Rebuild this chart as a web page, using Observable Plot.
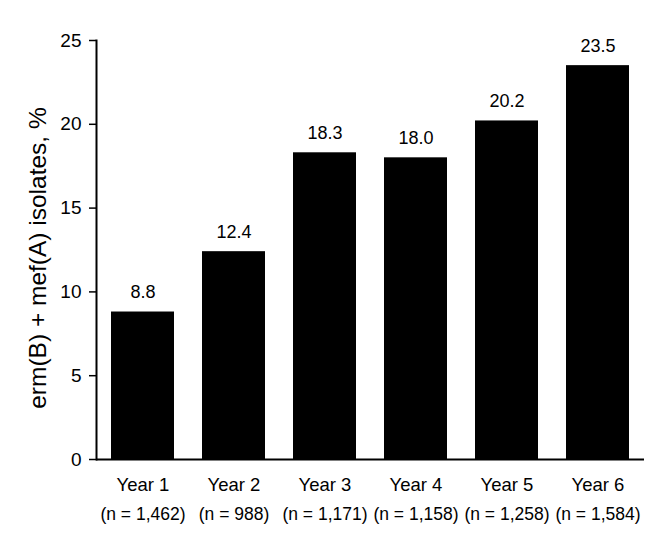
<!DOCTYPE html>
<html>
<head>
<meta charset="utf-8">
<script src="https://cdn.jsdelivr.net/npm/d3@7"></script>
<script src="https://cdn.jsdelivr.net/npm/@observablehq/plot@0.6"></script>
<style>
  body { margin: 0; background: #fff; }
  svg { font-family: "Liberation Sans", Arial, sans-serif; }
</style>
</head>
<body>
<div id="chart"></div>
<script>
const categories = ["Year 1", "Year 2", "Year 3", "Year 4", "Year 5", "Year 6"];
const values = [8.8, 12.4, 18.3, 18.0, 20.2, 23.5];
const sampleSizes = ["(n = 1,462)", "(n = 988)", "(n = 1,171)", "(n = 1,158)", "(n = 1,258)", "(n = 1,584)"];
const yTicks = [0, 5, 10, 15, 20, 25];
const yLabel = "erm(B) + mef(A) isolates, %";

const data = categories.map((c, i) => ({year: c, value: values[i], n: sampleSizes[i]}));

const chart = Plot.plot({
  width: 672,
  height: 540,
  marginLeft: 96,
  marginRight: 28,
  marginTop: 40,
  marginBottom: 81,
  style: {fontFamily: "Liberation Sans, Arial, sans-serif", color: "#000", background: "#fff"},
  x: {domain: categories, paddingInner: 0.31, paddingOuter: 0.155, axis: null},
  y: {domain: [0, 25], axis: null},
  marks: [
    Plot.barY(data, {x: "year", y: "value", fill: "#000"}),
    Plot.text(data, {x: "year", y: "value", text: d => d3.format(".1f")(d.value), lineAnchor: "bottom", dy: -14, fontSize: 18, fill: "#000"}),
    Plot.axisY({ticks: yTicks, tickSize: 7, tickPadding: 8, fontSize: 19, label: null, strokeWidth: 1.5}),
    Plot.frame({anchor: "left", stroke: "#000", strokeWidth: 2}),
    Plot.ruleY([0], {stroke: "#000", strokeWidth: 2}),
    Plot.text(data, {x: "year", text: "year", frameAnchor: "bottom", lineAnchor: "middle", dy: 26, fontSize: 18.5, fill: "#000"}),
    Plot.text(data, {x: "year", text: "n", frameAnchor: "bottom", lineAnchor: "middle", dy: 55, fontSize: 17.5, fill: "#000"}),
    Plot.text([yLabel], {frameAnchor: "left", textAnchor: "middle", rotate: -90, dx: -58, dy: 8, fontSize: 24.5, fill: "#000"})
  ]
});
document.getElementById("chart").appendChild(chart);
</script>
</body>
</html>
